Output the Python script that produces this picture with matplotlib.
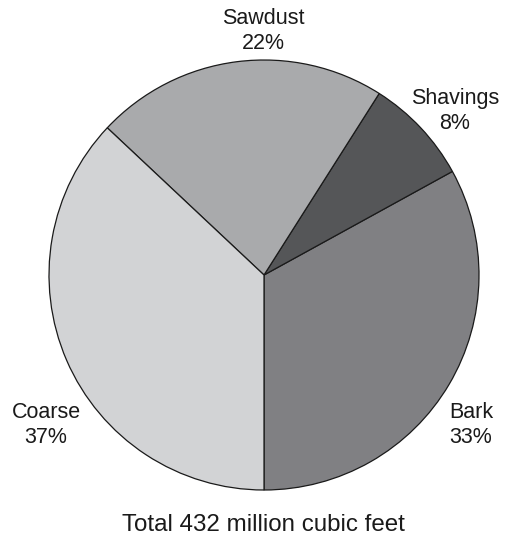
import matplotlib
matplotlib.use("Agg")
import matplotlib.pyplot as plt

# Data
categories = ["Bark", "Shavings", "Sawdust", "Coarse"]
shares = [33, 8, 22, 37]
colors = ["#808083", "#555658", "#a9aaac", "#d2d3d5"]
total_label = "Total 432 million cubic feet"

W, H = 506, 538
fig = plt.figure(figsize=(W / 100, H / 100), dpi=100)
ax = fig.add_axes([0, 0, 1, 1])
ax.axis("off")

cx, cy, r = 264, H - 275, 215
ax.pie(shares, colors=colors, startangle=-90, counterclock=True,
       center=(cx, cy), radius=r,
       wedgeprops=dict(edgecolor="#1a1a1a", linewidth=0.9))
ax.set_xlim(0, W)
ax.set_ylim(0, H)
ax.set_aspect("equal")

# label positions (pixel layout)
label_pos = {"Sawdust": (263, 31), "Shavings": (455, 111),
             "Coarse": (46, 425), "Bark": (471, 425)}
font = ["Liberation Sans", "DejaVu Sans"]
for name, val in zip(categories, shares):
    x, y = label_pos[name]
    ax.text(x, H - y, f"{name}\n{val}%", ha="center", va="center",
            fontsize=15.5, family=font, linespacing=1.2, color="#1a1a1a")

ax.text(263, H - 525, total_label, ha="center", va="center",
        fontsize=17.4, family=font, color="#1a1a1a")

fig.savefig("out.png", dpi=100)
